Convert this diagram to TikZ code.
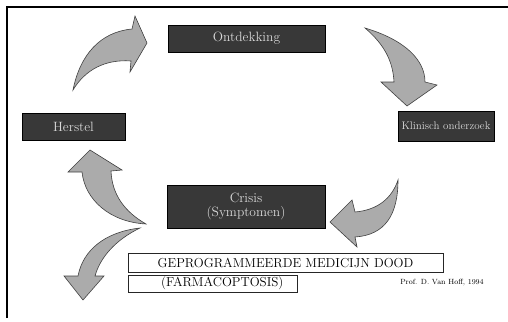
\documentclass[tikz,border=0pt]{standalone}
\usetikzlibrary{patterns}
\begin{document}
\begin{tikzpicture}[x=1pt,y=-1pt,
  darkbox/.style={draw=black,line width=0.8pt,fill=black!78,text=black!15,inner sep=0pt,align=center,font=\fontsize{13.5}{14}\selectfont},
  whitebox/.style={draw=black!85,line width=0.6pt,fill=white,inner sep=0pt,font=\fontsize{13}{14}\selectfont},
  bigarrow/.style={draw=black!75,line width=0.6pt,fill=black!33},
  frameline/.style={line width=1.2pt,black}]
\useasboundingbox (0,0) rectangle (508,321);
% frame
\coordinate (fl) at (7,318);
\coordinate (fc) at (7,7);
\coordinate (fr) at (508,7);
\draw[frameline] (fl) -- (fc) -- (fr);
% boxes
\node[darkbox,minimum width=157pt,minimum height=27pt] (ont) at (246.5,38.5) {Ontdekking};
\node[darkbox,minimum width=103pt,minimum height=27pt] (her) at (73.5,126.5) {Herstel};
\node[darkbox,minimum width=96pt,minimum height=30pt,font=\fontsize{11}{12}\selectfont] (kli) at (446,126) {Klinisch onderzoek};
\node[darkbox,minimum width=158pt,minimum height=43pt] (cri) at (246,206.5) {Crisis\\(Symptomen)};
\node[whitebox,minimum width=315pt,minimum height=19pt] (gep) at (285.5,262.5) {GEPROGRAMMEERDE MEDICIJN DOOD};
\node[whitebox,minimum width=169pt,minimum height=17pt,anchor=west] (far) at (128,283.5) {\hspace*{19pt}(FARMACOPTOSIS)\hfill};
\node[font=\fontsize{7.5}{8}\selectfont,inner sep=0pt] (prof) at (442,283) {Prof. D. Van Hoff, 1994};
% arrow 1: Herstel -> Ontdekking
\draw[bigarrow] (73,90) .. controls (80,55) and (100,32) .. (132,29)
  -- (135,16) -- (147,43) -- (130,72) -- (131,61)
  .. controls (105,59) and (85,70) .. (73,90) -- cycle;
% arrow 2: Ontdekking -> Klinisch
\draw[bigarrow] (365,28) .. controls (405,40) and (425,60) .. (425,82)
  -- (437,85) -- (407,106) -- (381,82) -- (394,82)
  .. controls (393,62) and (385,45) .. (365,28) -- cycle;
% arrow 3: Klinisch -> Crisis
\draw[bigarrow] (398,180) .. controls (398,215) and (385,235) .. (355,237)
  -- (357,247) -- (330,222) -- (352,200) -- (355,212)
  .. controls (378,210) and (392,198) .. (398,180) -- cycle;
% arrow 4: Crisis -> Herstel
\draw[bigarrow] (146,224) .. controls (110,222) and (85,200) .. (82,172)
  -- (68,172) -- (90,150) -- (122,170) -- (111,171)
  .. controls (112,195) and (125,212) .. (146,224) -- cycle;
% arrow 5: Crisis -> down
\draw[bigarrow] (140,228) .. controls (105,232) and (83,250) .. (78,276)
  -- (64,276) -- (83,300) -- (104,276) -- (95,276)
  .. controls (100,258) and (115,240) .. (140,228) -- cycle;
\end{tikzpicture}
\end{document}
